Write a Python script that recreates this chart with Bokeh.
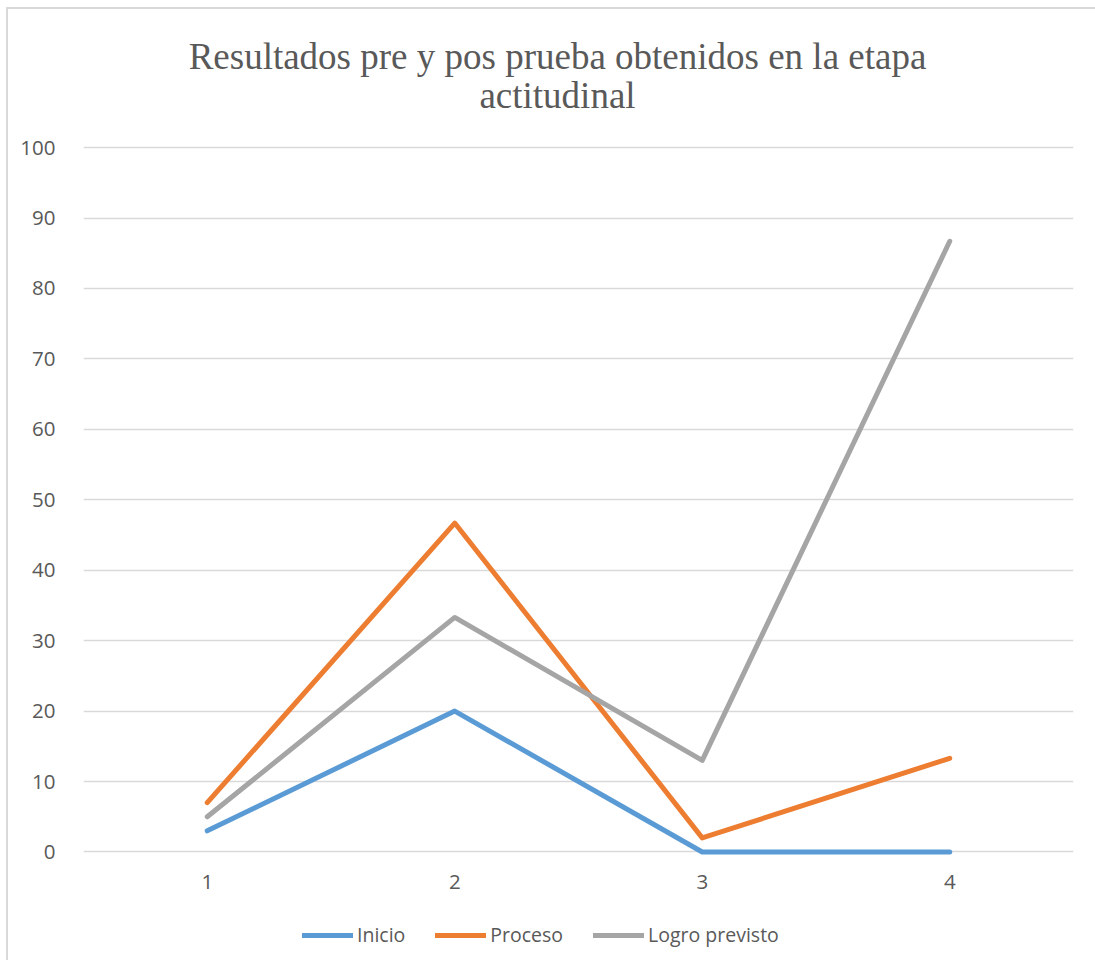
from bokeh.plotting import figure
from bokeh.models import (FactorRange, Range1d, SingleIntervalTicker, Legend, LegendItem)
from bokeh.layouts import column
from bokeh.core.properties import value
from bokeh.embed import file_html
from bokeh.resources import INLINE

categories = ["1", "2", "3", "4"]
inicio = [3, 20, 0, 0]
proceso = [7, 46.7, 2, 13.3]
logro = [5, 33.3, 13, 86.7]
series = [inicio, proceso, logro]
series_names = ["Inicio", "Proceso", "Logro previsto"]
colors = ["#5B9BD5", "#ED7D31", "#A5A5A5"]
title_lines = ["Resultados pre y pos prueba obtenidos en la etapa", "actitudinal"]

W = 1087
ML, MR = 75, 22
TEXT = "#595959"
GRID = "#D9D9D9"
TH = 118  # title strip height

xr = FactorRange(*categories)

# ---- title strip ----
pt = figure(width=W, height=TH, x_range=Range1d(0, W - ML - MR), y_range=Range1d(TH, 0),
            output_backend="svg", toolbar_location=None, x_axis_location=None, y_axis_location=None,
            min_border_left=ML, min_border_right=MR, min_border_top=0, min_border_bottom=0)
pt.outline_line_color = None
pt.grid.visible = False
pt.text(x=[474, 474], y=[47, 86], text=title_lines, text_align="center", text_baseline="alphabetic",
        text_font=value("Liberation Serif"), text_font_size="37px", text_color=TEXT)

# ---- main chart ----
p = figure(width=W, height=900 - 9 - TH, x_range=xr, y_range=Range1d(-0.5, 100.3),
           output_backend="svg", toolbar_location=None,
           min_border_left=ML, min_border_right=MR, min_border_top=136 - TH, min_border_bottom=45)
p.outline_line_color = None

for ys, c in zip(series, colors):
    p.line(categories, ys, line_color=c, line_width=5, line_cap="round", line_join="round")

p.yaxis.ticker = SingleIntervalTicker(interval=10)
p.yaxis.axis_line_color = None
p.yaxis.major_tick_line_color = None
p.yaxis.minor_tick_line_color = None
p.yaxis.major_label_standoff = 22
p.yaxis.major_label_text_font = "Open Sans"
p.yaxis.major_label_text_font_size = "20.5px"
p.yaxis.major_label_text_color = TEXT

p.xaxis.axis_line_color = None
p.xaxis.major_tick_line_color = None
p.xaxis.minor_tick_line_color = None
p.xaxis.major_label_standoff = 13
p.xaxis.major_label_text_font = "Open Sans"
p.xaxis.major_label_text_font_size = "20.5px"
p.xaxis.major_label_text_color = TEXT

p.xgrid.grid_line_color = None
p.ygrid.grid_line_color = GRID
p.ygrid.grid_line_width = 1.5

# ---- legend strip (series drawn out of view, only their legend entries show) ----
pl = figure(width=W, height=60, x_range=xr, y_range=Range1d(500, 501),
            output_backend="svg", toolbar_location=None, x_axis_location=None, y_axis_location=None,
            min_border_left=ML, min_border_right=MR, min_border_top=0, min_border_bottom=0)
pl.outline_line_color = None
pl.grid.visible = False
leg_renderers = [pl.line(categories, ys, line_color=c, line_width=5, line_cap="round")
                 for ys, c in zip(series, colors)]
legend = Legend(items=[LegendItem(label=n, renderers=[r]) for n, r in zip(series_names, leg_renderers)],
                orientation="horizontal", location=(219, 12),
                label_text_font="Open Sans", label_text_font_size="19.5px", label_text_color=TEXT,
                glyph_width=51, glyph_height=20, label_standoff=4, spacing=30,
                border_line_color=None, background_fill_alpha=0, padding=0, margin=0)
pl.add_layout(legend)

layout = column(pt, p, pl, spacing=0)
layout.margin = (7, 0, 0, 6)
layout.styles = {"border-left": "2px solid #D9D9D9", "border-top": "2px solid #D9D9D9"}

open("out.html", "w").write(file_html(layout, INLINE))
